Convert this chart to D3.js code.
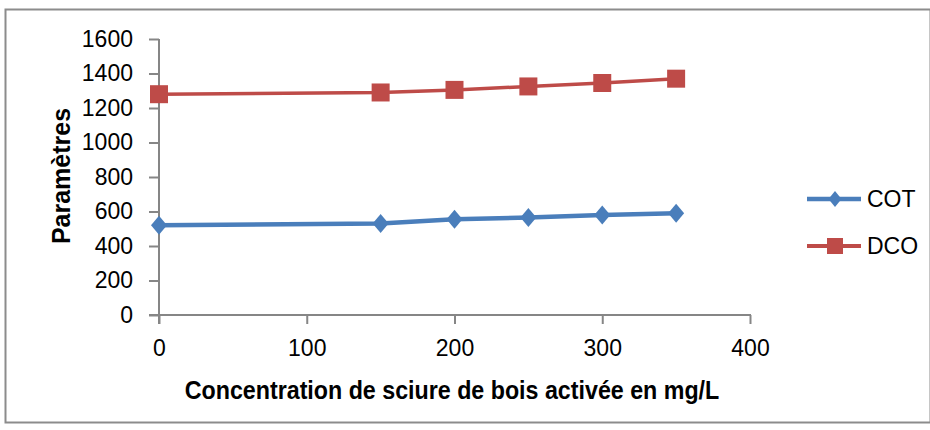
<!DOCTYPE html>
<html><head><meta charset="utf-8">
<script src="https://cdn.jsdelivr.net/npm/d3@7"></script>
<style>body{margin:0;background:#fff}svg{display:block}text{font-family:"Liberation Sans",Arial,sans-serif}</style>
</head><body>
<svg id="c" width="930" height="430"></svg>
<script>
const xValues = [0, 150, 200, 250, 300, 350];
const cotValues = [520, 530, 555, 565, 580, 590];
const dcoValues = [1280, 1290, 1305, 1325, 1345, 1370];
const seriesNames = ["COT", "DCO"];
const xTicks = [0, 100, 200, 300, 400];
const yTicks = [0, 200, 400, 600, 800, 1000, 1200, 1400, 1600];
const xTitle = "Concentration de sciure de bois activée en mg/L";
const yTitle = "Paramètres";

const svg = d3.select("#c");
svg.append("rect").attr("x",5.5).attr("y",9.5).attr("width",925).attr("height",413)
  .attr("fill","none").attr("stroke","#8c8c8c").attr("stroke-width",2);

const x = d3.scaleLinear().domain([0,400]).range([159,750]);
const y = d3.scaleLinear().domain([0,1600]).range([315,39]);
const axisColor = "#868686";
const fmt = d3.format("d");

const gx = svg.append("g").attr("transform","translate(0,315)")
  .call(d3.axisBottom(x).tickValues(xTicks).tickFormat(fmt).tickSize(9).tickPadding(16).tickSizeOuter(0));
gx.select(".domain").attr("stroke",axisColor).attr("stroke-width",2).attr("d","M149,0H751");
gx.selectAll(".tick line").attr("stroke",axisColor).attr("stroke-width",2);
gx.selectAll(".tick text").attr("fill","#000").attr("font-size",23);

const gy = svg.append("g").attr("transform","translate(159,0)")
  .call(d3.axisLeft(y).tickValues(yTicks).tickFormat(fmt).tickSize(10).tickPadding(16).tickSizeOuter(0));
gy.select(".domain").attr("stroke",axisColor).attr("stroke-width",2).attr("d","M0,39V324");
gy.selectAll(".tick line").attr("stroke",axisColor).attr("stroke-width",2);
gy.selectAll(".tick text").attr("fill","#000").attr("font-size",23);

svg.append("text").attr("transform","translate(452,399) scale(0.93,1)").attr("text-anchor","middle")
  .attr("font-size",25).attr("font-weight","bold").text(xTitle);
svg.append("text").attr("transform","translate(70,176) rotate(-90)").attr("text-anchor","middle")
  .attr("font-size",25).attr("font-weight","bold").text(yTitle);

const colors = ["#4a7ebb","#be4b48"];
const data = [cotValues, dcoValues];
const line = d3.line().x((d,i)=>x(xValues[i])).y(d=>y(d));
const diamondType = (w,h)=>({draw(ctx){ctx.moveTo(0,-h/2);ctx.lineTo(w/2,0);ctx.lineTo(0,h/2);ctx.lineTo(-w/2,0);ctx.closePath();}});
const diamond = d3.symbol().type(diamondType(16,19));
const square = d3.symbol().type(d3.symbolSquare).size(324);
const legDiamond = d3.symbol().type(diamondType(13,16));
const legSquare = d3.symbol().type(d3.symbolSquare).size(256);
const shapes = [diamond, square];
const legShapes = [legDiamond, legSquare];

data.forEach((vals,k)=>{
  svg.append("path").datum(vals).attr("d",line).attr("fill","none")
    .attr("stroke",colors[k]).attr("stroke-width",k===0?4.5:3.5);
  svg.selectAll(".m"+k).data(vals).enter().append("path")
    .attr("transform",(d,i)=>`translate(${x(xValues[i])},${y(d)})`)
    .attr("d",shapes[k]()).attr("fill",colors[k]);
});

const legY = [199, 246];
seriesNames.forEach((n,k)=>{
  svg.append("line").attr("x1",807).attr("x2",861).attr("y1",legY[k]).attr("y2",legY[k])
    .attr("stroke",colors[k]).attr("stroke-width",k===0?4.5:4);
  svg.append("path").attr("transform",`translate(835,${legY[k]})`).attr("d",legShapes[k]()).attr("fill",colors[k]);
  svg.append("text").attr("x",867).attr("y",legY[k]+8).attr("font-size",23).text(n);
});
</script>
</body></html>
